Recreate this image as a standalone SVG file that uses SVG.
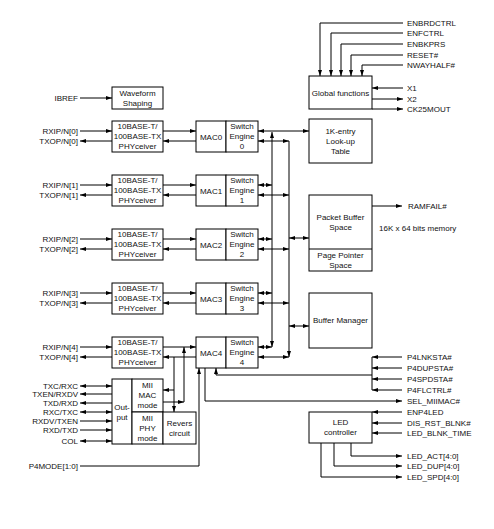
<svg xmlns="http://www.w3.org/2000/svg" width="494" height="529" viewBox="0 0 494 529">
<style>
text{font-family:"Liberation Sans",Arial,sans-serif;font-size:8px;fill:#111}
.c{text-anchor:middle}
.r{text-anchor:end}
.n{fill:#fff;stroke:#000;stroke-width:1}
.l{fill:none;stroke:#000;stroke-width:1}
.e{marker-end:url(#a)}
.s{marker-start:url(#a)}
.b{marker-start:url(#a);marker-end:url(#a)}
</style>
<defs>
<marker id="a" viewBox="0 0 6 4" refX="6" refY="2" markerWidth="6" markerHeight="4" markerUnits="userSpaceOnUse" orient="auto-start-reverse"><path d="M0,0L6,2L0,4z" fill="#000"/></marker>
</defs>
<rect width="494" height="529" fill="#fff"/>

<g id="connectors">
<path class="l e" d="M403,23H320V76"/>
<path class="l e" d="M403,33H331V76"/>
<path class="l e" d="M403,44H341V76"/>
<path class="l e" d="M403,55H351V76"/>
<path class="l e" d="M403,65H362V76"/>
<path class="l e" d="M403,88H372"/>
<path class="l e" d="M372,99H403"/>
<path class="l e" d="M372,109H403"/>
<path class="l e" d="M80,98H112"/>
<path class="l e" d="M80,131H112"/><path class="l e" d="M112,141H80"/>
<path class="l e" d="M163,131H196"/><path class="l e" d="M196,141H163"/>
<path class="l e" d="M80,185H112"/><path class="l e" d="M112,195H80"/>
<path class="l e" d="M163,185H196"/><path class="l e" d="M196,195H163"/>
<path class="l e" d="M80,239H112"/><path class="l e" d="M112,249H80"/>
<path class="l e" d="M163,239H196"/><path class="l e" d="M196,249H163"/>
<path class="l e" d="M80,293H112"/><path class="l e" d="M112,303H80"/>
<path class="l e" d="M163,293H196"/><path class="l e" d="M196,303H163"/>
<path class="l e" d="M80,347H112"/><path class="l e" d="M112,357H80"/>
<path class="l e" d="M163,347H196"/><path class="l e" d="M196,357H163"/>
<path class="l b" d="M258,131H309"/>
<path class="l b" d="M258,141H289"/>
<path class="l b" d="M258,185H272"/><path class="l b" d="M258,195H289"/>
<path class="l b" d="M258,239H272"/><path class="l b" d="M258,249H289"/>
<path class="l b" d="M258,293H272"/><path class="l b" d="M258,303H289"/>
<path class="l b" d="M258,347H272"/><path class="l b" d="M258,357H289"/>
<path class="l b" d="M272,132V347"/>
<path class="l e" d="M289,141V357"/>
<path class="l b" d="M289,238H309"/>
<path class="l b" d="M289,326H309"/>
<path class="l e" d="M372,206H402"/>
<path class="l e" d="M184,402V347"/>
<path class="l e" d="M163,402H184"/>
<path class="l e" d="M174,357V412"/>
<path class="l e" d="M174,390H163"/>
<path class="l e" d="M80,466H199V368"/>
<path class="l e" d="M372,375H216V368"/>
<path class="l e" d="M205,368V401H402"/>
<path class="l" d="M372,357V390"/>
<path class="l e" d="M402,357H372"/>
<path class="l e" d="M402,368H372"/>
<path class="l e" d="M402,379H372"/>
<path class="l e" d="M402,390H372"/>
<path class="l e" d="M402,412H372"/>
<path class="l e" d="M402,423H372"/>
<path class="l e" d="M402,433H372"/>
<path class="l e" d="M351,443V456H402"/>
<path class="l e" d="M334,443V466H402"/>
<path class="l e" d="M321,443V477H402"/>
<path class="l b" d="M80,386H112"/>
<path class="l e" d="M112,394H80"/>
<path class="l e" d="M112,403H80"/>
<path class="l b" d="M80,412H112"/>
<path class="l e" d="M80,421H112"/>
<path class="l e" d="M80,430H112"/>
<path class="l b" d="M80,441H112"/>
</g>

<g id="global-functions"><rect class="n" x="309" y="76" width="63" height="33"/><text class="c" x="340.5" y="96">Global functions</text></g>
<g id="global-labels">
<text x="407" y="26">ENBRDCTRL</text><text x="407" y="36">ENFCTRL</text><text x="407" y="47">ENBKPRS</text><text x="407" y="58">RESET#</text><text x="407" y="68">NWAYHALF#</text>
<text x="407" y="91">X1</text><text x="407" y="102">X2</text><text x="407" y="112">CK25MOUT</text>
</g>
<g id="waveform"><rect class="n" x="112" y="87" width="51" height="22"/><text class="c" x="137.5" y="96">Waveform</text><text class="c" x="137.5" y="106">Shaping</text><text class="r" x="78" y="101">IBREF</text></g>

<g id="row0">
<rect class="n" x="112" y="121" width="51" height="31"/><text class="c" x="137.5" y="129">10BASE-T/</text><text class="c" x="137.5" y="139">100BASE-TX</text><text class="c" x="137.5" y="149">PHYceiver</text>
<rect class="n" x="196" y="121" width="30" height="31"/><text class="c" x="211" y="139.5">MAC0</text>
<rect class="n" x="226" y="121" width="32" height="31"/><text class="c" x="242" y="129">Switch</text><text class="c" x="242" y="139">Engine</text><text class="c" x="242" y="149">0</text>
<text class="r" x="78" y="134">RXIP/N[0]</text><text class="r" x="78" y="144">TXOP/N[0]</text>
</g>
<g id="row1">
<rect class="n" x="112" y="175" width="51" height="31"/><text class="c" x="137.5" y="183">10BASE-T/</text><text class="c" x="137.5" y="193">100BASE-TX</text><text class="c" x="137.5" y="203">PHYceiver</text>
<rect class="n" x="196" y="175" width="30" height="31"/><text class="c" x="211" y="193.5">MAC1</text>
<rect class="n" x="226" y="175" width="32" height="31"/><text class="c" x="242" y="183">Switch</text><text class="c" x="242" y="193">Engine</text><text class="c" x="242" y="203">1</text>
<text class="r" x="78" y="188">RXIP/N[1]</text><text class="r" x="78" y="198">TXOP/N[1]</text>
</g>
<g id="row2">
<rect class="n" x="112" y="229" width="51" height="31"/><text class="c" x="137.5" y="237">10BASE-T/</text><text class="c" x="137.5" y="247">100BASE-TX</text><text class="c" x="137.5" y="257">PHYceiver</text>
<rect class="n" x="196" y="229" width="30" height="31"/><text class="c" x="211" y="247.5">MAC2</text>
<rect class="n" x="226" y="229" width="32" height="31"/><text class="c" x="242" y="237">Switch</text><text class="c" x="242" y="247">Engine</text><text class="c" x="242" y="257">2</text>
<text class="r" x="78" y="242">RXIP/N[2]</text><text class="r" x="78" y="252">TXOP/N[2]</text>
</g>
<g id="row3">
<rect class="n" x="112" y="283" width="51" height="31"/><text class="c" x="137.5" y="291">10BASE-T/</text><text class="c" x="137.5" y="301">100BASE-TX</text><text class="c" x="137.5" y="311">PHYceiver</text>
<rect class="n" x="196" y="283" width="30" height="31"/><text class="c" x="211" y="301.5">MAC3</text>
<rect class="n" x="226" y="283" width="32" height="31"/><text class="c" x="242" y="291">Switch</text><text class="c" x="242" y="301">Engine</text><text class="c" x="242" y="311">3</text>
<text class="r" x="78" y="296">RXIP/N[3]</text><text class="r" x="78" y="306">TXOP/N[3]</text>
</g>
<g id="row4">
<rect class="n" x="112" y="337" width="51" height="31"/><text class="c" x="137.5" y="345">10BASE-T/</text><text class="c" x="137.5" y="355">100BASE-TX</text><text class="c" x="137.5" y="365">PHYceiver</text>
<rect class="n" x="196" y="337" width="30" height="31"/><text class="c" x="211" y="355.5">MAC4</text>
<rect class="n" x="226" y="337" width="32" height="31"/><text class="c" x="242" y="345">Switch</text><text class="c" x="242" y="355">Engine</text><text class="c" x="242" y="365">4</text>
<text class="r" x="78" y="350">RXIP/N[4]</text><text class="r" x="78" y="360">TXOP/N[4]</text>
</g>

<g id="lookup"><rect class="n" x="309" y="119" width="63" height="44"/><text class="c" x="340.5" y="134">1K-entry</text><text class="c" x="340.5" y="144">Look-up</text><text class="c" x="340.5" y="154">Table</text></g>
<g id="packet-buffer"><rect class="n" x="309" y="195" width="63" height="76"/><path class="l" d="M309,249H372"/>
<text class="c" x="340.5" y="220">Packet Buffer</text><text class="c" x="340.5" y="230">Space</text><text class="c" x="340.5" y="258">Page Pointer</text><text class="c" x="340.5" y="268">Space</text>
<text x="408" y="209">RAMFAIL#</text><text x="379" y="231">16K x 64 bits memory</text></g>
<g id="buffer-manager"><rect class="n" x="309" y="293" width="63" height="55"/><text class="c" x="340.5" y="323">Buffer Manager</text></g>

<g id="mii">
<rect class="n" x="112" y="379" width="20" height="65"/><text class="c" x="122" y="410">Out-</text><text class="c" x="122" y="420">put</text>
<rect class="n" x="132" y="379" width="31" height="33"/><text class="c" x="147.5" y="388">MII</text><text class="c" x="147.5" y="398">MAC</text><text class="c" x="147.5" y="408">mode</text>
<rect class="n" x="132" y="412" width="31" height="32"/><text class="c" x="147.5" y="421">MII</text><text class="c" x="147.5" y="431">PHY</text><text class="c" x="147.5" y="441">mode</text>
<rect class="n" x="163" y="412" width="33" height="32"/><text class="c" x="179.5" y="426">Revers</text><text class="c" x="179.5" y="436">circuit</text>
</g>
<g id="mii-labels">
<text class="r" x="78" y="389">TXC/RXC</text><text class="r" x="78" y="397">TXEN/RXDV</text><text class="r" x="78" y="406">TXD/RXD</text><text class="r" x="78" y="415">RXC/TXC</text><text class="r" x="78" y="424">RXDV/TXEN</text><text class="r" x="78" y="433">RXD/TXD</text><text class="r" x="78" y="444">COL</text>
<text class="r" x="78" y="469">P4MODE[1:0]</text>
</g>
<g id="p4-labels">
<text x="407" y="360">P4LNKSTA#</text><text x="407" y="371">P4DUPSTA#</text><text x="407" y="382">P4SPDSTA#</text><text x="407" y="393">P4FLCTRL#</text><text x="407" y="404">SEL_MIIMAC#</text>
</g>
<g id="led-controller"><rect class="n" x="309" y="412" width="63" height="31"/><text class="c" x="340.5" y="425">LED</text><text class="c" x="340.5" y="435">controller</text>
<text x="407" y="415">ENP4LED</text><text x="407" y="426">DIS_RST_BLNK#</text><text x="407" y="436">LED_BLNK_TIME</text>
<text x="407" y="459">LED_ACT[4:0]</text><text x="407" y="469">LED_DUP[4:0]</text><text x="407" y="480">LED_SPD[4:0]</text></g>
</svg>
